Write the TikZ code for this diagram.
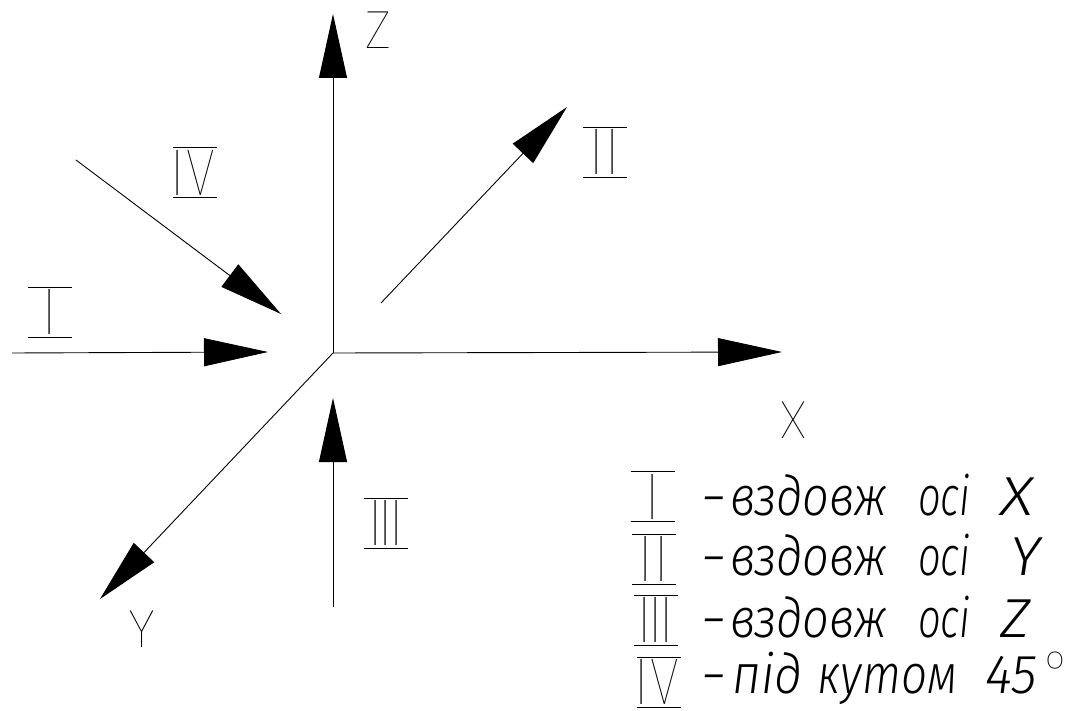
\documentclass[tikz,border=0pt]{standalone}
\usepackage{fontspec}
\usepackage{graphicx}
\usetikzlibrary{arrows.meta}
\newfontfamily\thinfont{Poppins Thin}
\newfontfamily\legendfont{Fira Sans Light}[ItalicFont={Fira Sans Light Italic}]
\tikzset{
  x=1pt,y=-1pt,
  shaft/.style={line width=0.9pt,-{Triangle[length=64pt,width=28pt]}},
  bar/.style={line width=0.9pt},
  roman/.style={inner sep=0pt,font=\thinfont\fontsize{64}{64}\selectfont},
  axislabel/.style={inner sep=0pt,font=\thinfont\fontsize{52}{52}\selectfont},
  legendline/.style={inner sep=0pt,anchor=base west,font=\legendfont\itshape\fontsize{55}{55}\selectfont},
  degree/.style={inner sep=0pt,font=\thinfont\fontsize{50}{50}\selectfont},
}
\newcommand\romanmark[4]{%
  \node[roman] (#1) at (#2,#3) {#4};
  \draw[bar] ([shift={(-22,-25)}]#1.center) -- ++(44,0);
  \draw[bar] ([shift={(-22,25)}]#1.center) -- ++(44,0);
}
\newcommand\oneI{I}
\newcommand\twoI{I\kern4pt I}
\newcommand\threeI{I\kern-1.5pt I\kern-1.5pt I}
\newcommand\fourI{I\kern3pt\scalebox{.72}[1]{V}\kern3pt}
\newcommand\fitword[3]{\makebox[#1pt][l]{\resizebox{#2pt}{\height}{#3}}}
\begin{document}
\begin{tikzpicture}
\useasboundingbox (0,0) rectangle (1077,711);
\coordinate (O) at (333,353);
\coordinate (Xt) at (782,352);
\coordinate (Yt) at (100,599);
\coordinate (Zt) at (333,14);
\coordinate (As) at (12,353); \coordinate (At) at (268,352);
\coordinate (Bs) at (381,303); \coordinate (Bt) at (567,107);
\coordinate (Cs) at (333,607); \coordinate (Ct) at (333,398);
\coordinate (Ds) at (76,160); \coordinate (Dt) at (281,314);
\draw[shaft] (O) -- (Xt);
\draw[shaft] (O) -- (Yt);
\draw[shaft] (O) -- (Zt);
\draw[shaft] (As) -- (At);
\draw[shaft] (Bs) -- (Bt);
\draw[shaft] (Cs) -- (Ct);
\draw[shaft] (Ds) -- (Dt);
\node[axislabel] (lz) at (378,30) {Z};
\node[axislabel] (lx) at (793,420) {X};
\node[axislabel] (ly) at (141.5,629) {Y};
\romanmark{r1}{50}{312}{\oneI}
\romanmark{r2}{605}{152}{\twoI}
\romanmark{r3}{386}{523}{\threeI}
\romanmark{r4}{195}{172.5}{\fourI}
\romanmark{k1}{652.5}{496.5}{\oneI}
\romanmark{k2}{654}{559}{\twoI}
\romanmark{k3}{655.5}{620}{\threeI}
\romanmark{k4}{659}{682}{\fourI}
\node[legendline] (t1) at (703,515) {\fitword{27}{21}{–}\fitword{188}{157}{вздовж}\fitword{82}{52}{осі}\fitword{30}{33}{X}};
\node[legendline] (t2) at (703,575) {\fitword{27}{21}{–}\fitword{188}{157}{вздовж}\fitword{92}{52}{осі}\fitword{30}{30}{Y}};
\node[legendline] (t3) at (703,637) {\fitword{27}{21}{–}\fitword{188}{157}{вздовж}\fitword{82}{52}{осі}\fitword{30}{30}{Z}};
\node[legendline] (t4) at (703,693) {\fitword{29}{21}{–}\fitword{85}{70}{під}\fitword{168}{140}{кутом}\fitword{52}{52}{45}};
\node[degree] (deg) at (1055,669.5) {°};
\end{tikzpicture}
\end{document}
